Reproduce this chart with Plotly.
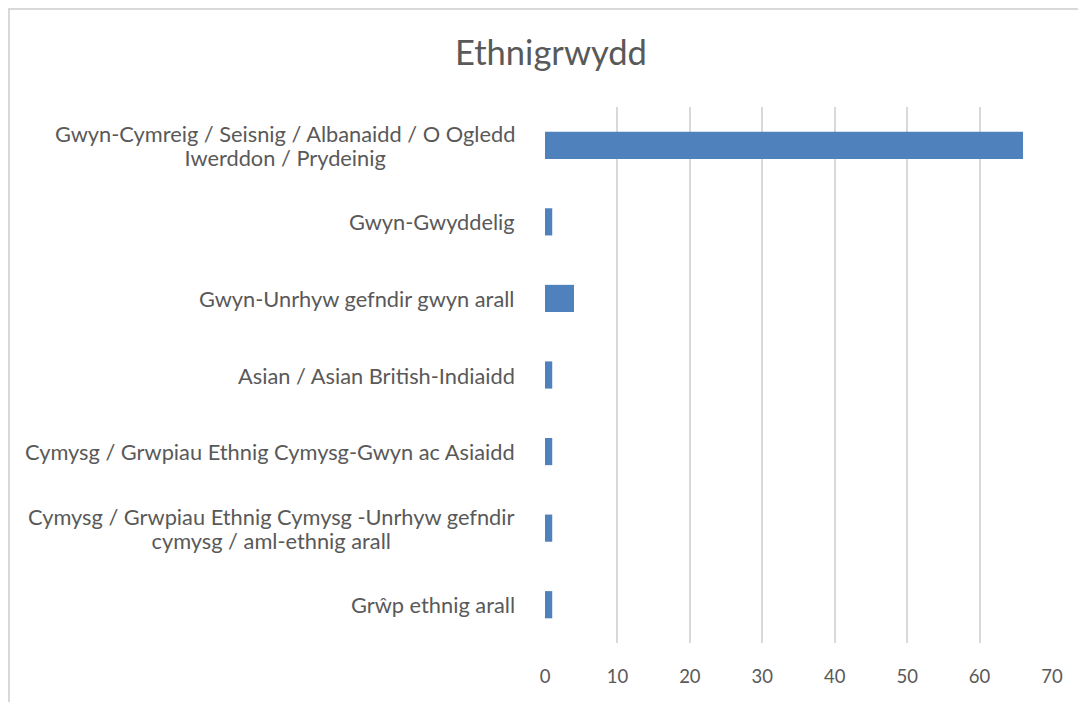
import plotly.graph_objects as go

categories = [
    "Gwyn-Cymreig / Seisnig / Albanaidd / O Ogledd<br>Iwerddon / Prydeinig",
    "Gwyn-Gwyddelig",
    "Gwyn-Unrhyw gefndir gwyn arall",
    "Asian / Asian British-Indiaidd",
    "Cymysg / Grwpiau Ethnig Cymysg-Gwyn ac Asiaidd",
    "Cymysg / Grwpiau Ethnig Cymysg -Unrhyw gefndir<br>cymysg / aml-ethnig arall",
    "Grŵp ethnig arall",
]
values = [66, 1, 4, 1, 1, 1, 1]
x_ticks = [0, 10, 20, 30, 40, 50, 60, 70]
title_text = "Ethnigrwydd"

FONT = "Lato"
TEXT = "#595959"
GRID = "#d9d9d9"
LBL_SIZE = 21.8
LINE_H = 24  # desired line spacing of wrapped labels

fig = go.Figure(go.Bar(
    y=categories, x=values, orientation="h",
    marker=dict(color="#4f81bd", line=dict(width=0)),
))

W, H = 1086, 702
L, R, T, B = 537, 42, 99, 67
pw, ph = W - L - R, H - T - B

# Category labels as right-anchored, centre-aligned blocks. The base font size
# sets Plotly's line spacing (1.3 em); each line is drawn at LBL_SIZE via a span.
base = LINE_H / 1.3
out = []
for c in categories:
    lines = c.split("<br>")
    txt = "<br>".join('<span style="font-size:%.1fpx">%s</span>' % (LBL_SIZE, ln)
                      for ln in lines)
    out.append(dict(text=txt, x=0, y=c, xref="paper", yref="y",
                    xanchor="right", yanchor="middle", align="center",
                    showarrow=False, xshift=-28,
                    font=dict(family=FONT, size=base, color=TEXT)))

fig.update_layout(
    width=W, height=H,
    margin=dict(l=L, r=R, t=T, b=B),
    paper_bgcolor="white", plot_bgcolor="white",
    bargap=0.645,
    showlegend=False,
    title=dict(text=title_text, x=543 / W, xanchor="center",
               y=1 - 45 / H, yanchor="middle", yref="container",
               font=dict(family=FONT, size=34.5, color=TEXT)),
    xaxis=dict(range=[0, 70], tickvals=x_ticks, showgrid=True,
               gridcolor=GRID, gridwidth=1.5, zeroline=False,
               showline=False, ticks="", ticklabelstandoff=20,
               tickfont=dict(family=FONT, size=18.5, color=TEXT)),
    yaxis=dict(autorange="reversed", showticklabels=False, showgrid=False,
               zeroline=False, showline=False, ticks=""),
    annotations=out,
    shapes=[dict(type="rect", xref="paper", yref="paper",
                 x0=(1 - L) / pw, x1=(W + 20 - L) / pw,
                 y0=-(B + 20) / ph, y1=(ph + T - 1) / ph,
                 line=dict(color=GRID, width=2), layer="below")],
)

fig.write_html("out.html")
